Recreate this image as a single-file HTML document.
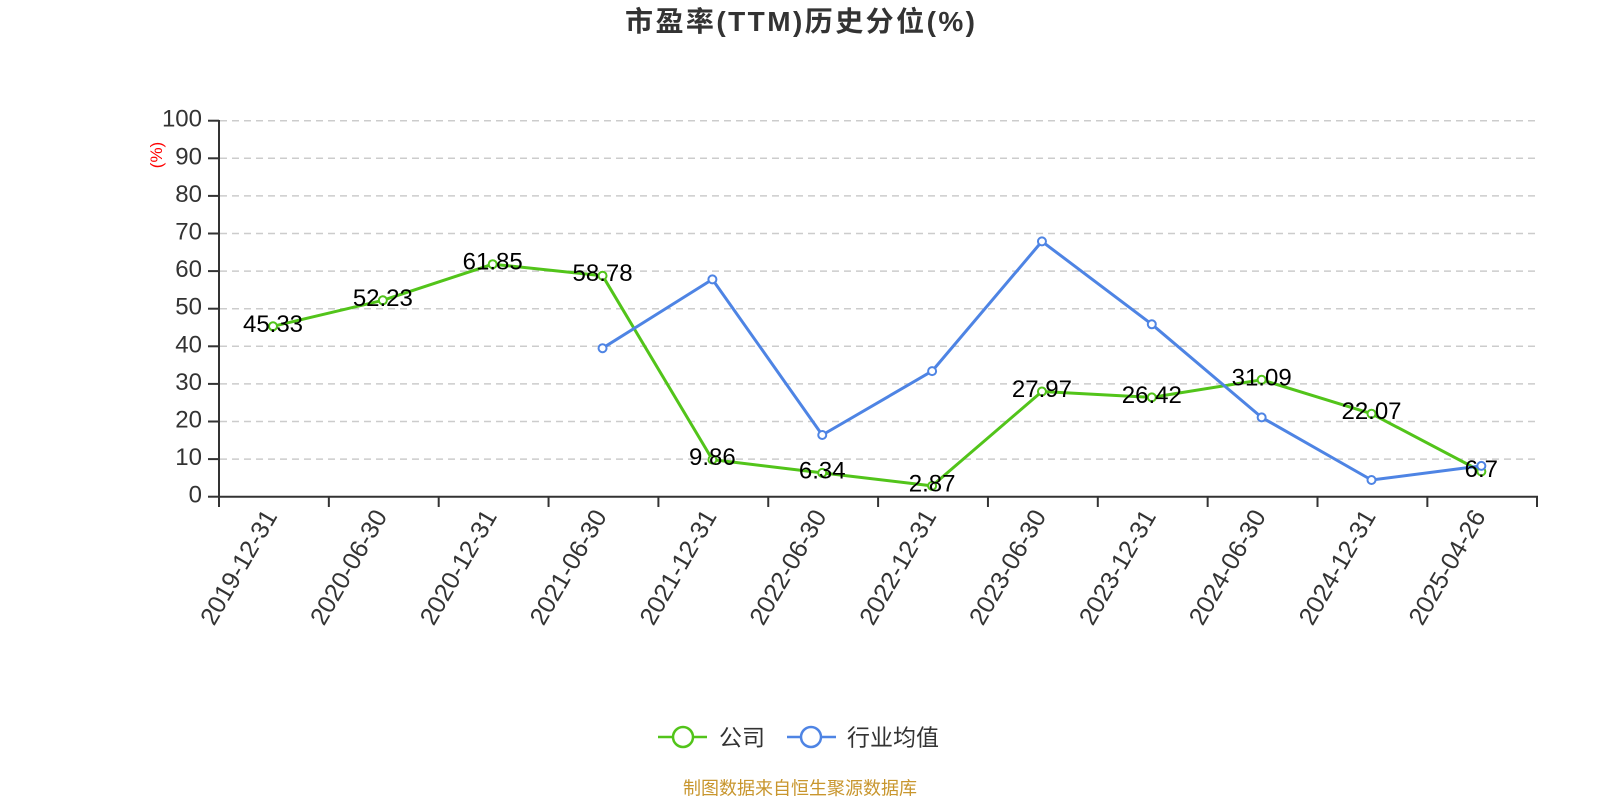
<!DOCTYPE html>
<html>
<head>
<meta charset="utf-8">
<style>
html,body{margin:0;padding:0;background:#fff;}
svg{display:block;}
text{font-family:"Liberation Sans","Noto Sans CJK SC",sans-serif;}
</style>
</head>
<body>
<svg width="1600" height="800" viewBox="0 0 1600 800" xmlns="http://www.w3.org/2000/svg">
<rect width="1600" height="800" fill="#fff"/>
<!-- title -->
<text x="800" y="31" text-anchor="middle" font-size="28" font-weight="bold" fill="#333" textLength="350" lengthAdjust="spacing">市盈率(TTM)历史分位(%)</text>

<!-- grid lines -->
<g stroke="#cccccc" stroke-width="1.5" stroke-dasharray="7,5">
<line x1="220" y1="120.7" x2="1537" y2="120.7"/>
<line x1="220" y1="158.3" x2="1537" y2="158.3"/>
<line x1="220" y1="195.9" x2="1537" y2="195.9"/>
<line x1="220" y1="233.5" x2="1537" y2="233.5"/>
<line x1="220" y1="271.1" x2="1537" y2="271.1"/>
<line x1="220" y1="308.7" x2="1537" y2="308.7"/>
<line x1="220" y1="346.3" x2="1537" y2="346.3"/>
<line x1="220" y1="383.9" x2="1537" y2="383.9"/>
<line x1="220" y1="421.5" x2="1537" y2="421.5"/>
<line x1="220" y1="459.1" x2="1537" y2="459.1"/>
</g>

<!-- y axis -->
<g stroke="#333" stroke-width="2">
<line x1="219" y1="120" x2="219" y2="497"/>
<line x1="208" y1="120.7" x2="219" y2="120.7"/>
<line x1="208" y1="158.3" x2="219" y2="158.3"/>
<line x1="208" y1="195.9" x2="219" y2="195.9"/>
<line x1="208" y1="233.5" x2="219" y2="233.5"/>
<line x1="208" y1="271.1" x2="219" y2="271.1"/>
<line x1="208" y1="308.7" x2="219" y2="308.7"/>
<line x1="208" y1="346.3" x2="219" y2="346.3"/>
<line x1="208" y1="383.9" x2="219" y2="383.9"/>
<line x1="208" y1="421.5" x2="219" y2="421.5"/>
<line x1="208" y1="459.1" x2="219" y2="459.1"/>
<line x1="208" y1="496.7" x2="219" y2="496.7"/>
</g>
<g font-size="24" fill="#333" text-anchor="end">
<text x="202" y="126.7">100</text>
<text x="202" y="164.3">90</text>
<text x="202" y="201.9">80</text>
<text x="202" y="239.5">70</text>
<text x="202" y="277.1">60</text>
<text x="202" y="314.7">50</text>
<text x="202" y="352.3">40</text>
<text x="202" y="389.9">30</text>
<text x="202" y="427.5">20</text>
<text x="202" y="465.1">10</text>
<text x="202" y="502.7">0</text>
</g>
<text transform="translate(162,155) rotate(-90)" text-anchor="middle" font-size="17" fill="#ff0000">(%)</text>

<!-- x axis -->
<g stroke="#333" stroke-width="2">
<line x1="218" y1="496.7" x2="1538" y2="496.7"/>
<line x1="219" y1="496" x2="219" y2="507"/>
<line x1="328.85" y1="496" x2="328.85" y2="507"/>
<line x1="438.7" y1="496" x2="438.7" y2="507"/>
<line x1="548.55" y1="496" x2="548.55" y2="507"/>
<line x1="658.4" y1="496" x2="658.4" y2="507"/>
<line x1="768.25" y1="496" x2="768.25" y2="507"/>
<line x1="878.1" y1="496" x2="878.1" y2="507"/>
<line x1="987.95" y1="496" x2="987.95" y2="507"/>
<line x1="1097.8" y1="496" x2="1097.8" y2="507"/>
<line x1="1207.65" y1="496" x2="1207.65" y2="507"/>
<line x1="1317.5" y1="496" x2="1317.5" y2="507"/>
<line x1="1427.35" y1="496" x2="1427.35" y2="507"/>
<line x1="1537" y1="496" x2="1537" y2="507"/>
</g>
<g font-size="25" fill="#333" text-anchor="end" dominant-baseline="central">
<text transform="translate(271,512) rotate(-60)">2019-12-31</text>
<text transform="translate(380.85,512) rotate(-60)">2020-06-30</text>
<text transform="translate(490.7,512) rotate(-60)">2020-12-31</text>
<text transform="translate(600.55,512) rotate(-60)">2021-06-30</text>
<text transform="translate(710.4,512) rotate(-60)">2021-12-31</text>
<text transform="translate(820.25,512) rotate(-60)">2022-06-30</text>
<text transform="translate(930.1,512) rotate(-60)">2022-12-31</text>
<text transform="translate(1039.95,512) rotate(-60)">2023-06-30</text>
<text transform="translate(1149.8,512) rotate(-60)">2023-12-31</text>
<text transform="translate(1259.65,512) rotate(-60)">2024-06-30</text>
<text transform="translate(1369.5,512) rotate(-60)">2024-12-31</text>
<text transform="translate(1479.35,512) rotate(-60)">2025-04-26</text>
</g>

<!-- green series -->
<polyline fill="none" stroke="#52c41a" stroke-width="3" stroke-linejoin="round"
points="273,326.3 382.85,300.3 492.7,264.2 602.55,275.7 712.4,459.6 822.25,472.9 932.1,485.9 1041.95,391.5 1151.8,397.4 1261.65,379.8 1371.5,413.7 1481.35,471.5"/>
<g fill="#fff" stroke="#52c41a" stroke-width="2">
<circle cx="273" cy="326.3" r="4"/>
<circle cx="382.85" cy="300.3" r="4"/>
<circle cx="492.7" cy="264.2" r="4"/>
<circle cx="602.55" cy="275.7" r="4"/>
<circle cx="712.4" cy="459.6" r="4"/>
<circle cx="822.25" cy="472.9" r="4"/>
<circle cx="932.1" cy="485.9" r="4"/>
<circle cx="1041.95" cy="391.5" r="4"/>
<circle cx="1151.8" cy="397.4" r="4"/>
<circle cx="1261.65" cy="379.8" r="4"/>
<circle cx="1371.5" cy="413.7" r="4"/>
<circle cx="1481.35" cy="471.5" r="4"/>
</g>

<!-- blue series -->
<polyline fill="none" stroke="#4e84e4" stroke-width="3" stroke-linejoin="round"
points="602.55,348.2 712.4,279.4 822.25,435 932.1,371.1 1041.95,241.4 1151.8,324.3 1261.65,417.4 1371.5,480 1481.35,465.9"/>
<g fill="#fff" stroke="#4e84e4" stroke-width="2">
<circle cx="602.55" cy="348.2" r="4"/>
<circle cx="712.4" cy="279.4" r="4"/>
<circle cx="822.25" cy="435" r="4"/>
<circle cx="932.1" cy="371.1" r="4"/>
<circle cx="1041.95" cy="241.4" r="4"/>
<circle cx="1151.8" cy="324.3" r="4"/>
<circle cx="1261.65" cy="417.4" r="4"/>
<circle cx="1371.5" cy="480" r="4"/>
<circle cx="1481.35" cy="465.9" r="4"/>
</g>

<!-- green labels -->
<g font-size="24" fill="#000" text-anchor="middle">
<text x="273" y="331.8">45.33</text>
<text x="382.85" y="305.8">52.23</text>
<text x="492.7" y="269.7">61.85</text>
<text x="602.55" y="281.2">58.78</text>
<text x="712.4" y="465.1">9.86</text>
<text x="822.25" y="478.4">6.34</text>
<text x="932.1" y="491.4">2.87</text>
<text x="1041.95" y="397">27.97</text>
<text x="1151.8" y="402.9">26.42</text>
<text x="1261.65" y="385.3">31.09</text>
<text x="1371.5" y="419.2">22.07</text>
<text x="1481.35" y="477">6.7</text>
</g>

<!-- legend -->
<line x1="658" y1="737" x2="707" y2="737" stroke="#52c41a" stroke-width="2.5"/>
<circle cx="683" cy="737" r="10" fill="#fff" stroke="#52c41a" stroke-width="2.5"/>
<text x="719" y="745.5" font-size="23" fill="#333">公司</text>
<line x1="787" y1="737" x2="836" y2="737" stroke="#4e84e4" stroke-width="2.5"/>
<circle cx="811" cy="737" r="10" fill="#fff" stroke="#4e84e4" stroke-width="2.5"/>
<text x="847" y="745.5" font-size="23" fill="#333">行业均值</text>

<!-- footer -->
<text x="800" y="794.5" text-anchor="middle" font-size="18" fill="#c8962e">制图数据来自恒生聚源数据库</text>
</svg>
</body>
</html>
